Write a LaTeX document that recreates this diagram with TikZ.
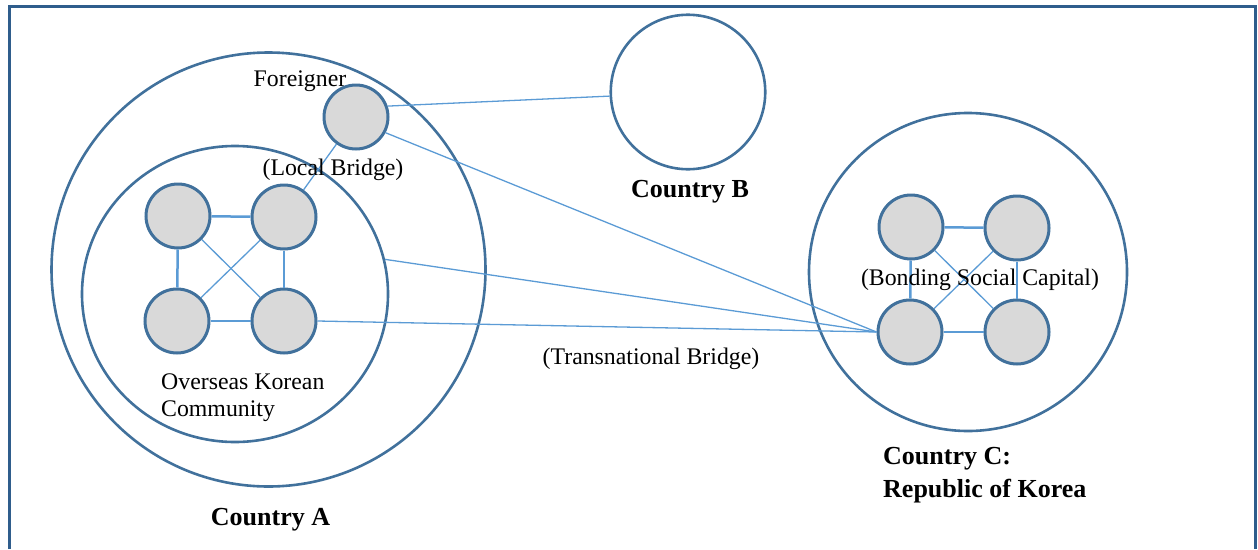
\documentclass[tikz,border=0pt]{standalone}
\usepackage{fontspec}
\setmainfont{Liberation Serif}
\usetikzlibrary{shapes.geometric}
\definecolor{frameblue}{HTML}{2F5D8C}
\definecolor{ringblue}{HTML}{41719C}
\definecolor{linkblue}{HTML}{5B9BD5}
\definecolor{nodegray}{HTML}{D9D9D9}
\begin{document}
\begin{tikzpicture}[x=1pt,y=-1pt,
  ring/.style={draw=ringblue,line width=2.6pt,circle,inner sep=0pt},
  member/.style={draw=ringblue,line width=3pt,circle,fill=nodegray,inner sep=0pt,minimum size=64pt},
  tie/.style={draw=linkblue,line width=2.5pt},
  thin tie/.style={draw=linkblue,line width=1.3pt},
  lab/.style={font=\fontsize{23.8}{27}\selectfont,inner sep=0pt,anchor=base},
  title/.style={font=\fontsize{26}{33}\selectfont\bfseries,inner sep=0pt,anchor=base}]
\useasboundingbox (0,0) rectangle (1258,549);
% frame
\draw[frameblue,line width=3pt] (9.5,549) -- (9.5,6) -- (1255,6) -- (1255,549);
% containers
\node[ring,minimum size=434pt] (A) at (268.5,269.5) {};
\node[ring,ellipse,minimum width=306pt,minimum height=296pt] (inner) at (235,294) {};
\node[ring,minimum size=154.5pt] (B) at (688,92) {};
\node[ring,minimum size=318pt] (C) at (968,272) {};
% members
\node[member] (F) at (356,117) {};
\node[member] (ATL) at (178,216) {};
\node[member] (ATR) at (284,217) {};
\node[member] (ABL) at (177,321) {};
\node[member] (ABR) at (284,321) {};
\node[member] (CTL) at (911,227) {};
\node[member] (CTR) at (1017,228) {};
\node[member] (CBL) at (910,332) {};
\node[member] (CBR) at (1017,332) {};
% ties in A
\draw[tie] (ATL) -- (ATR);
\draw[tie] (ABL) -- (ABR);
\draw[tie] (ATL) -- (ABL);
\draw[tie] (ATR) -- (ABR);
\draw[thin tie] (ATL) -- (ABR);
\draw[thin tie] (ATR) -- (ABL);
% ties in C
\draw[tie] (CTL) -- (CTR);
\draw[tie] (CBL) -- (CBR);
\draw[tie] (CTL) -- (CBL);
\draw[tie] (CTR) -- (CBR);
\draw[thin tie] (CTL) -- (CBR);
\draw[thin tie] (CTR) -- (CBL);
% bridges
\draw[thin tie] (F) -- (ATR);
\draw[thin tie] (F.19) -- (B.183);
\draw[thin tie] (F.-28) -- (CBL.west);
\draw[thin tie] (inner.13) -- (CBL.west);
\draw[thin tie] (ABR.east) -- (CBL.west);
% labels
\node[lab] (tF) at (300,86) {Foreigner};
\node[lab] (tLB) at (333,175) {(Local Bridge)};
\node[lab] (tBS) at (980,285.5) {(Bonding Social Capital)};
\node[lab] (tTB) at (651,364.5) {(Transnational Bridge)};
\node[lab,anchor=base west,align=left] (tOK) at (161,416) {Overseas Korean\\Community};
\node[title] (tA) at (270.5,525.5) {Country A};
\node[title] (tB) at (690,197.5) {Country B};
\node[title,anchor=base west,align=left] (tC) at (883,497) {Country C:\\Republic of Korea};
\end{tikzpicture}
\end{document}
